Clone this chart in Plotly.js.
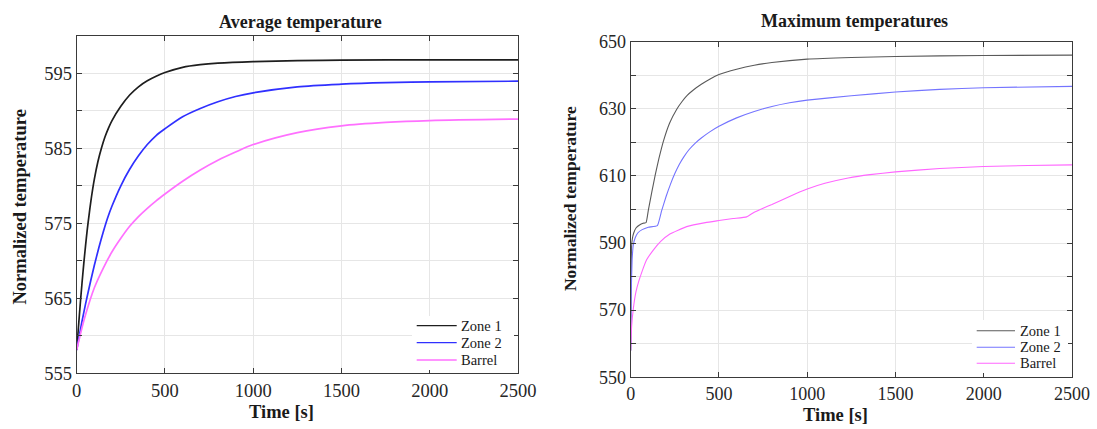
<!DOCTYPE html>
<html><head><meta charset="utf-8">
<script src="https://cdn.plot.ly/plotly-3.0.1.min.js"></script>
<style>
html,body{margin:0;padding:0;background:#fff}
#chart{width:1097px;height:429px}
#chart svg text{font-family:"Liberation Serif","Times New Roman",serif !important}
</style>
</head><body><div id="chart"></div>
<script>
// ---------- data ----------
const seriesNames = ['Zone 1', 'Zone 2', 'Barrel'];

// Average temperature
const avgZone1Time = [0,10,20,30,40,50,60,70,80,90,100,120,140,160,180,200,250,300,350,400,450,500,600,700,800,1000,1250,1500,2000,2500];
const avgZone1 = [558.1,561.2,564.2,567.0,569.6,572.0,574.2,576.1,577.9,579.5,580.9,583.2,585.0,586.5,587.7,588.7,590.6,592.1,593.2,594.0,594.6,595.1,595.8,596.15,596.35,596.55,596.68,596.75,596.8,596.8];
const avgZone2Time = [0,20,40,60,80,100,125,150,175,200,250,300,350,400,450,500,600,700,800,900,1000,1250,1500,1750,2000,2500];
const avgZone2 = [558.1,560.7,563.1,565.3,567.4,569.4,571.7,573.8,575.7,577.3,580.0,582.2,584.0,585.5,586.7,587.6,589.2,590.3,591.2,591.9,592.4,593.2,593.55,593.75,593.85,593.95];
const avgBarrelTime = [0,25,50,100,150,200,250,300,350,400,450,500,600,700,800,900,1000,1250,1500,1750,2000,2500];
const avgBarrel = [558.1,560.6,562.8,566.4,569.0,571.2,573.0,574.6,575.9,577.0,578.0,578.9,580.6,582.1,583.4,584.5,585.5,587.1,588.0,588.45,588.7,588.9];

// Maximum temperatures
const maxZone1Time = [0,2,5,10,17,30,50,70,87,100,120,139,160,185,220,260,290,320,355,400,450,500,600,700,800,1000,1250,1500,2000,2500];
const maxZone1 = [558,575,589,591.5,593,594.5,595.4,595.9,596.1,599.8,605.3,610.3,615.2,620.3,625.7,629.8,632.1,634,635.6,637.3,638.9,640.2,641.8,643,643.8,644.8,645.3,645.6,645.9,646];
const maxZone2Time = [0,3,8,15,25,40,65,100,151,175,200,225,250,275,300,330,366,400,450,500,600,700,800,900,1000,1250,1500,1750,2000,2500];
const maxZone2 = [558,575,585,589.5,591.5,593,594,594.7,595.2,599.6,603.8,607.5,610.7,613.4,615.6,617.8,619.8,621.3,623.2,624.8,627.3,629.2,630.7,631.8,632.6,633.9,635.0,635.8,636.3,636.7];
const maxBarrelTime = [0,5,15,30,45,64,90,128,170,222,317,423,500,580,657,700,750,800,900,1000,1100,1232,1355,1500,1750,2000,2250,2500];
const maxBarrel = [558,565,570.5,575.5,578.5,581.5,585,587.9,590.5,592.7,594.9,596.1,596.7,597.3,597.8,599.2,600.4,601.5,603.9,606.1,607.8,609.4,610.4,611.2,612.2,612.8,613.1,613.3];

// ticks
const xTickVals = [0,500,1000,1500,2000,2500];
const xTickText = ['0','500','1000','1500','2000','2500'];
const avgTickVals = [555,560,565,570,575,580,585,590,595,600];
const avgTickText = ['555','','565','','575','','585','','595',''];
const maxTickVals = [550,560,570,580,590,600,610,620,630,640,650];
const maxTickText = ['550','','570','','590','','610','','630','','650'];

// ---------- styling ----------
const W = 1097, H = 429;
const px = v => v / W;
const py = v => 1 - v / H;
const FONT = 'Liberation Serif';
const avgColors = ['#1e1e1e', '#3030ff', '#ff70ff'];
const maxColors = ['#5a5a5a', '#7474ff', '#ff66ff'];

const avgTimes = [avgZone1Time, avgZone2Time, avgBarrelTime];
const avgVals = [avgZone1, avgZone2, avgBarrel];
const maxTimes = [maxZone1Time, maxZone2Time, maxBarrelTime];
const maxVals = [maxZone1, maxZone2, maxBarrel];

const traces = [];
for (let i = 0; i < 3; i++) {
  traces.push({x: avgTimes[i], y: avgVals[i], name: seriesNames[i], type: 'scatter', mode: 'lines',
    line: {color: avgColors[i], width: 1.7, shape: 'spline', smoothing: 0.8}, xaxis: 'x', yaxis: 'y', showlegend: false});
}
for (let i = 0; i < 3; i++) {
  traces.push({x: maxTimes[i], y: maxVals[i], name: seriesNames[i], type: 'scatter', mode: 'lines',
    line: {color: maxColors[i], width: 1.1, shape: 'spline', smoothing: 0.4}, xaxis: 'x2', yaxis: 'y2', showlegend: false});
}

function axisBase(tickSize) {
  return {
    ticks: 'inside', ticklen: 5, tickwidth: 1, tickcolor: '#3a3a3a',
    showline: true, linecolor: '#3a3a3a', linewidth: 1, mirror: 'ticks',
    showgrid: true, gridcolor: '#e6e6e6', gridwidth: 1, zeroline: false,
    tickfont: {family: FONT, size: tickSize, color: '#262626'},
    automargin: false, fixedrange: true, tickmode: 'array'
  };
}

const layout = {
  width: W, height: H,
  margin: {l: 0, r: 0, t: 0, b: 0},
  paper_bgcolor: '#fff', plot_bgcolor: '#fff',
  showlegend: false,
  font: {family: FONT},
  xaxis: Object.assign(axisBase(18.5), {domain: [px(76.7), px(518)], range: [0, 2500], anchor: 'y',
    tickvals: xTickVals, ticktext: xTickText}),
  yaxis: Object.assign(axisBase(18.5), {domain: [py(373.3), py(35.8)], range: [555, 600], anchor: 'x',
    tickvals: avgTickVals, ticktext: avgTickText}),
  xaxis2: Object.assign(axisBase(18), {domain: [px(630.7), px(1072)], range: [0, 2500], anchor: 'y2',
    tickvals: xTickVals, ticktext: xTickText}),
  yaxis2: Object.assign(axisBase(18), {domain: [py(377.3), py(41.7)], range: [550, 650], anchor: 'x2',
    tickvals: maxTickVals, ticktext: maxTickText}),
  shapes: [],
  annotations: []
};

function addText(text, x, y, size, opts) {
  layout.annotations.push(Object.assign({
    text: text, xref: 'paper', yref: 'paper', x: px(x), y: py(y),
    xanchor: 'center', yanchor: 'middle', showarrow: false,
    font: {family: FONT, size: size, color: '#1a1a1a'}
  }, opts || {}));
}

// titles
addText('<b>Average temperature</b>', 300, 21.7, 18);
addText('<b>Maximum temperatures</b>', 854.6, 20.7, 18);
addText('<b>Time [s]</b>', 281.6, 411.7, 18.5);
addText('<b>Time [s]</b>', 835, 415, 18.5);
addText('<b>Normalized temperature</b>', 19, 207.5, 18.5, {textangle: -90});
addText('<b>Normalized temperature</b>', 570.6, 198.5, 17.5, {textangle: -90});

// legends (boxes with sample lines + labels)
function addLegend(colors, widths, boxL, boxT, boxR, boxB, lineL, lineR, textL, rows) {
  layout.shapes.push({type: 'rect', xref: 'paper', yref: 'paper', x0: px(boxL), x1: px(boxR), y0: py(boxB), y1: py(boxT),
    fillcolor: '#fff', line: {width: 0}, layer: 'above'});
  for (let i = 0; i < seriesNames.length; i++) {
    layout.shapes.push({type: 'line', xref: 'paper', yref: 'paper', x0: px(lineL), x1: px(lineR), y0: py(rows[i]), y1: py(rows[i]),
      line: {color: colors[i], width: widths}, layer: 'above'});
    addText(seriesNames[i], textL, rows[i], 14.5, {xanchor: 'left', font: {family: FONT, size: 14.5, color: '#1a1a1a'}});
  }
}
addLegend(avgColors, 1.3, 412, 316, 514, 370, 416.7, 456.7, 458.5, [325.7, 342.7, 360]);
addLegend(maxColors, 1.1, 972, 320, 1068, 373, 976.7, 1015, 1017.5, [330.7, 347.3, 363.3]);

Plotly.newPlot('chart', traces, layout, {displayModeBar: false, staticPlot: true});
</script>
</body></html>
